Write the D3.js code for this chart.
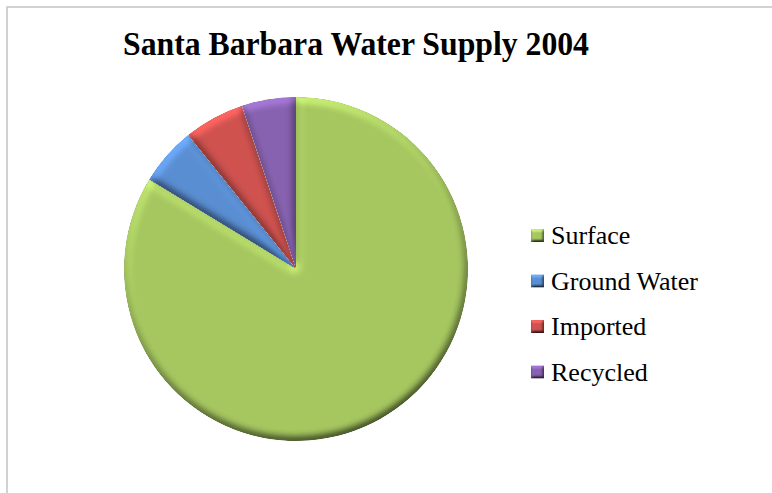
<!DOCTYPE html>
<html>
<head>
<meta charset="utf-8">
<script src="https://cdn.jsdelivr.net/npm/d3@7"></script>
<style>
  html, body { margin: 0; padding: 0; background: #fff; }
  svg { display: block; }
</style>
</head>
<body>
<div id="chart"></div>
<script>
// Water supply sources, share of total (%)
const categories = ["Surface", "Ground Water", "Imported", "Recycled"];
const values = [83.7, 5.5, 5.7, 5.1];
const palette = ["#a6c760", "#5a8ed2", "#cf524f", "#8762b0"];
const title = "Santa Barbara Water Supply 2004";

const width = 772, height = 493;
const cx = 296, cy = 269, radius = 172;

const svg = d3.select("#chart").append("svg")
  .attr("width", width).attr("height", height);

// Raised-edge look for slices and legend keys
const defs = svg.append("defs");
function bevel(id, blur, scale) {
  const f = defs.append("filter").attr("id", id)
    .attr("x", "-5%").attr("y", "-5%").attr("width", "110%").attr("height", "110%")
    .attr("color-interpolation-filters", "sRGB");
  f.append("feGaussianBlur").attr("in", "SourceAlpha").attr("stdDeviation", blur).attr("result", "b");
  f.append("feDiffuseLighting").attr("in", "b").attr("surfaceScale", scale)
    .attr("diffuseConstant", 1).attr("lighting-color", "#fff").attr("result", "d")
    .append("feDistantLight").attr("azimuth", 250).attr("elevation", 55);
  f.append("feComposite").attr("in", "SourceGraphic").attr("in2", "d")
    .attr("operator", "arithmetic").attr("k1", 1.22).attr("k2", 0).attr("k3", 0).attr("k4", 0)
    .attr("result", "lit");
  f.append("feComposite").attr("in", "lit").attr("in2", "SourceAlpha").attr("operator", "in");
}
bevel("bevel", 4, 3.5);
bevel("bevelKey", 1.5, 2);

// Chart area frame
svg.append("rect")
  .attr("x", 7).attr("y", 7).attr("width", width).attr("height", height)
  .attr("fill", "none").attr("stroke", "#c4c4c4").attr("stroke-width", 1.5);

// Title
svg.append("text")
  .attr("x", 123).attr("y", 55)
  .attr("font-family", "'Liberation Serif', 'Times New Roman', serif")
  .attr("font-weight", "bold").attr("font-size", 34)
  .attr("textLength", 466).attr("lengthAdjust", "spacingAndGlyphs")
  .attr("fill", "#000")
  .text(title);

const color = d3.scaleOrdinal().domain(categories).range(palette);

const pie = d3.pie().sort(null).value((d, i) => values[i]);
const arc = d3.arc().innerRadius(0).outerRadius(radius);

const g = svg.append("g").attr("transform", `translate(${cx},${cy})`);
g.selectAll("path.slice")
  .data(pie(categories))
  .join("path")
  .attr("class", "slice")
  .attr("d", arc)
  .attr("fill", d => color(d.data))
  .attr("filter", "url(#bevel)");

// Legend
const legend = svg.append("g");
const baselines = d3.scalePoint().domain(categories).range([244, 380.5]);
const item = legend.selectAll("g.item")
  .data(categories)
  .join("g")
  .attr("class", "item")
  .attr("transform", d => `translate(531,${baselines(d)})`);
item.append("rect")
  .attr("x", 0).attr("y", -15).attr("width", 13).attr("height", 13)
  .attr("fill", d => color(d))
  .attr("filter", "url(#bevelKey)");
item.append("text")
  .attr("x", 20).attr("y", 0)
  .attr("font-family", "'Liberation Serif', 'Times New Roman', serif")
  .attr("font-size", 26)
  .attr("fill", "#000")
  .text(d => d);
</script>
</body>
</html>
